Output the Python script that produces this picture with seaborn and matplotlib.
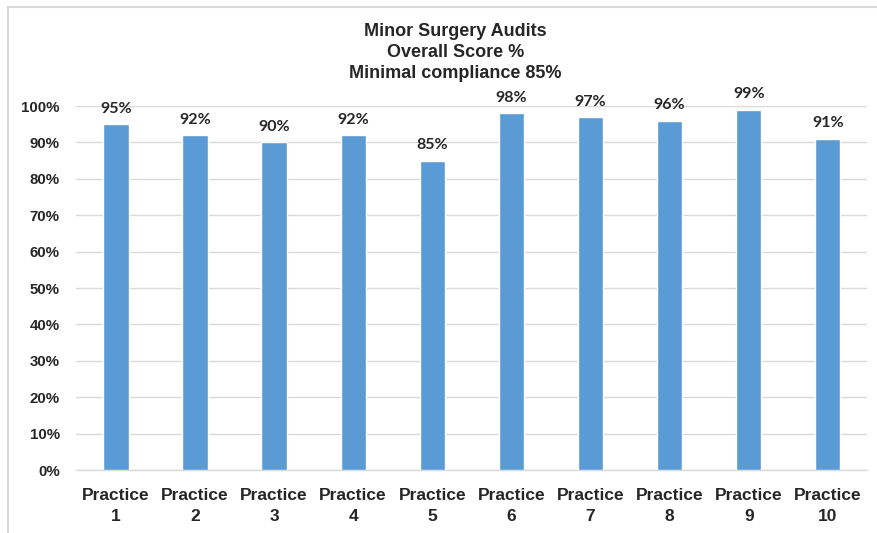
import matplotlib
matplotlib.use("Agg")
import matplotlib.pyplot as plt
import seaborn as sns
import pandas as pd
from matplotlib.lines import Line2D
from matplotlib.ticker import FuncFormatter

# Data
practices = ["Practice\n1", "Practice\n2", "Practice\n3", "Practice\n4", "Practice\n5",
             "Practice\n6", "Practice\n7", "Practice\n8", "Practice\n9", "Practice\n10"]
scores = [95, 92, 90, 92, 85, 98, 97, 96, 99, 91]
title_lines = ["Minor Surgery Audits", "Overall Score %", "Minimal compliance 85%"]

sns.set_style("white")
plt.rcParams['font.family'] = ['Liberation Sans', 'DejaVu Sans']

df = pd.DataFrame({"practice": practices, "score": scores})

fig = plt.figure(figsize=(8.77, 5.33), dpi=100)
ax = fig.add_axes([0.087, 0.118, 0.902, 0.683])

sns.barplot(data=df, x="practice", y="score", color="#5B9BD5", width=0.32,
            saturation=1, ax=ax, zorder=3)

ax.set_ylim(0, 100)
ax.set_xlim(-0.5, len(practices) - 0.5)
ax.set_yticks(range(0, 101, 10))
ax.yaxis.set_major_formatter(FuncFormatter(lambda v, p: f"{int(v)}%"))
ax.grid(axis="y", color="#D9D9D9", linewidth=1, zorder=0)
ax.set_xlabel("")
ax.set_ylabel("")

for s in ["top", "right", "left"]:
    ax.spines[s].set_visible(False)
ax.spines["bottom"].set_color("#D9D9D9")
ax.spines["bottom"].set_linewidth(1)
ax.tick_params(axis="both", length=0)
ax.tick_params(axis="y", pad=12)
ax.tick_params(axis="x", pad=13)
for lbl in ax.get_yticklabels():
    lbl.set_fontsize(10.8)
    lbl.set_fontweight("bold")
for lbl in ax.get_xticklabels():
    lbl.set_fontsize(12.5)
    lbl.set_fontweight("bold")
    lbl.set_linespacing(1.45)

for bar, val in zip(ax.patches, scores):
    ax.annotate(f"{val}%", (bar.get_x() + bar.get_width() / 2, bar.get_height()),
                xytext=(0, 6), textcoords="offset points", ha="center", va="bottom",
                fontsize=11.5, fontweight="bold", family=["Lato", "DejaVu Sans"])

fig.text(0.519, 0.957, "\n".join(title_lines), ha="center", va="top",
         fontsize=13, fontweight="bold", linespacing=1.33)

# chart frame: only the top and left edges are visible in the reference (cropped screenshot)
fig.lines.append(Line2D([0.009, 1.0], [0.987, 0.987], transform=fig.transFigure,
                        color="#D9D9D9", linewidth=1.5))
fig.lines.append(Line2D([0.009, 0.009], [0.0, 0.987], transform=fig.transFigure,
                        color="#D9D9D9", linewidth=1.5))

fig.savefig("out.png", dpi=100)
